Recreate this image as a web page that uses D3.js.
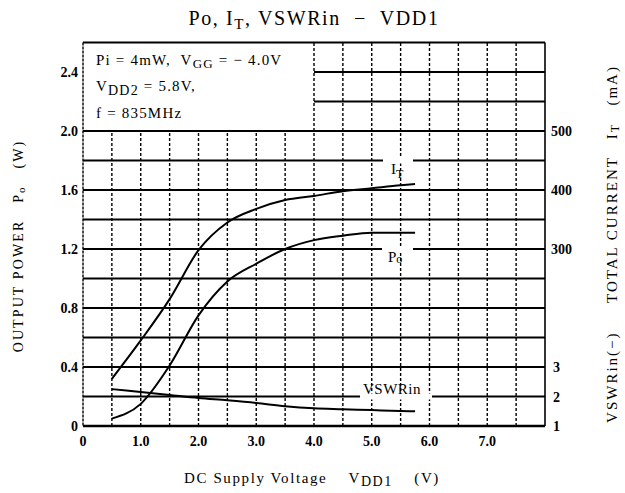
<!DOCTYPE html>
<html><head><meta charset="utf-8">
<script src="https://cdn.jsdelivr.net/npm/d3@7"></script>
<style>
body{margin:0;background:#fff;}
svg{display:block;font-family:"Liberation Serif","DejaVu Serif",serif;}
text{white-space:pre;}
</style></head><body>
<svg id="c" width="625" height="493"></svg>
<script>
// ---- data ----
const vdd = [0.5,1.0,1.5,2.0,2.5,3.0,3.5,4.0,4.5,5.0,5.5,5.75];
const poW = [0.05,0.15,0.41,0.75,0.98,1.10,1.20,1.26,1.29,1.31,1.31,1.31];
const itMA = [80,145,215,298,345,368,383,390,398,403,408,410];
const vswr = [2.25,2.15,2.05,1.95,1.87,1.78,1.67,1.60,1.57,1.54,1.51,1.50];
const xTicks = [0,1,2,3,4,5,6,7];
const yTicks = [0,0.4,0.8,1.2,1.6,2.0,2.4];
const itTicks = [300,400,500];
const vswrTicks = [1,2,3];
const hGrid = [0.2,0.4,0.6,0.8,1.0,1.2,1.4,1.6,1.8,2.0,2.2,2.4];
const vGrid = [0.5,1,1.5,2,2.5,3,3.5,4,4.5,5,5.5,6,6.5,7,7.5];

const svg = d3.select("#c");
const L=83,R=545,T=42.5,B=426;
const x = d3.scaleLinear([0,8],[L,R]);
const y = d3.scaleLinear([0,2.6],[B,T]);
const yI = d3.scaleLinear([0,650],[B,T]);
const yV = d3.scaleLinear([1,14],[B,T]);
const boxX = 4.0, boxY = 2.0; // annotation box corner

// vertical grid (dotted)
svg.append("g").selectAll("line").data(vGrid).join("line")
  .attr("x1",d=>x(d)).attr("x2",d=>x(d))
  .attr("y1",B).attr("y2",d=>d<boxX?y(boxY):T)
  .attr("stroke","#000").attr("stroke-width",1.4).attr("stroke-dasharray","3,2");

// horizontal grid
svg.append("g").selectAll("line").data(hGrid).join("line")
  .attr("x1",d=>d>boxY?x(boxX):L).attr("x2",R)
  .attr("y1",d=>y(d)).attr("y2",d=>y(d))
  .attr("stroke","#000").attr("stroke-width",1.8);

// frame
svg.append("line").attr("x1",L).attr("x2",R).attr("y1",B).attr("y2",B).attr("stroke","#000").attr("stroke-width",2.5);
svg.append("line").attr("x1",L).attr("x2",R).attr("y1",T).attr("y2",T).attr("stroke","#000").attr("stroke-width",1.8);
svg.append("line").attr("x1",L).attr("x2",L).attr("y1",T).attr("y2",B).attr("stroke","#000").attr("stroke-width",1.4).attr("stroke-dasharray","3,1");
svg.append("line").attr("x1",R).attr("x2",R).attr("y1",T).attr("y2",B).attr("stroke","#000").attr("stroke-width",1.6);

// label backgrounds (break gridlines)
function gap(x1,x2,yy){svg.append("rect").attr("x",x1).attr("y",yy-3).attr("width",x2-x1).attr("height",6).attr("fill","#fff");}
gap(383,413,y(1.8));
gap(382,413,y(1.2));
gap(360,432,y(0.2));

// curves
const line = (ys, sc) => d3.line().x((d,i)=>x(vdd[i])).y(d=>sc(d)).curve(d3.curveMonotoneX)(ys);
svg.append("path").attr("d",line(itMA,yI)).attr("fill","none").attr("stroke","#000").attr("stroke-width",2);
svg.append("path").attr("d",line(poW,y)).attr("fill","none").attr("stroke","#000").attr("stroke-width",2);
svg.append("path").attr("d",line(vswr,yV)).attr("fill","none").attr("stroke","#000").attr("stroke-width",2);

// curve labels
const lab = svg.append("g").attr("font-size",15).attr("fill","#000");
lab.append("text").attr("x",391).attr("y",174).html("I<tspan font-size='12' dy='4'>T</tspan>");
lab.append("text").attr("x",388).attr("y",262).html("P<tspan font-size='12' dy='1'>o</tspan>");
lab.append("text").attr("x",363).attr("y",394).attr("letter-spacing",0.5).text("VSWRin");

// axes tick labels
const tl = svg.append("g").attr("font-size",14).attr("font-weight","bold").attr("fill","#000");
tl.selectAll(".xt").data(xTicks).join("text").attr("class","xt")
  .attr("x",d=>x(d)).attr("y",446).attr("text-anchor","middle")
  .text(d=>d===0?"0":d3.format(".1f")(d));
tl.selectAll(".yt").data(yTicks).join("text").attr("class","yt")
  .attr("x",78).attr("y",d=>y(d)+5).attr("text-anchor","end")
  .text(d=>d===0?"0":d3.format(".1f")(d));
tl.selectAll(".it").data(itTicks).join("text").attr("class","it")
  .attr("x",551).attr("y",d=>yI(d)+5).text(d=>d);
tl.selectAll(".vt").data(vswrTicks).join("text").attr("class","vt")
  .attr("x",553).attr("y",d=>yV(d)+5).text(d=>d);

// title
svg.append("text").attr("x",314).attr("y",25).attr("text-anchor","middle").attr("font-size",20).attr("letter-spacing",1.6)
  .html("Po, I<tspan font-size='15' dy='4'>T</tspan><tspan dy='-4'>, VSWRin  −  VDD1</tspan>");

// annotation
const an = svg.append("g").attr("font-size",15).attr("letter-spacing",1.2);
an.append("text").attr("x",96).attr("y",65)
  .html("Pi = 4mW,  V<tspan font-size='13' dy='3'>GG</tspan><tspan dy='-3'> = − 4.0V</tspan>");
an.append("text").attr("x",96).attr("y",91)
  .html("V<tspan font-size='14' dy='4'>DD2</tspan><tspan dy='-4'> = 5.8V,</tspan>");
an.append("text").attr("x",96).attr("y",118).text("f = 835MHz");

// x title
svg.append("text").attr("x",312).attr("y",483).attr("text-anchor","middle").attr("font-size",15).attr("letter-spacing",1.6)
  .html("DC Supply Voltage    V<tspan font-size='14' dy='3'>DD1</tspan><tspan dy='-3'>    (V)</tspan>");

// left title
svg.append("text").attr("transform","translate(23,246) rotate(-90)").attr("text-anchor","middle").attr("font-size",14).attr("letter-spacing",2.1)
  .html("OUTPUT POWER   P<tspan font-size='11' dy='2'>o</tspan><tspan dy='-2'>   (W)</tspan>");

// right title
svg.append("text").attr("transform","translate(617,244) rotate(-90)").attr("text-anchor","middle").attr("font-size",15).attr("letter-spacing",2)
  .html("VSWRin(−)     TOTAL CURRENT   I<tspan font-size='12' dy='2'>T</tspan><tspan dy='-2'>   (mA)</tspan>");
</script>
</body></html>
